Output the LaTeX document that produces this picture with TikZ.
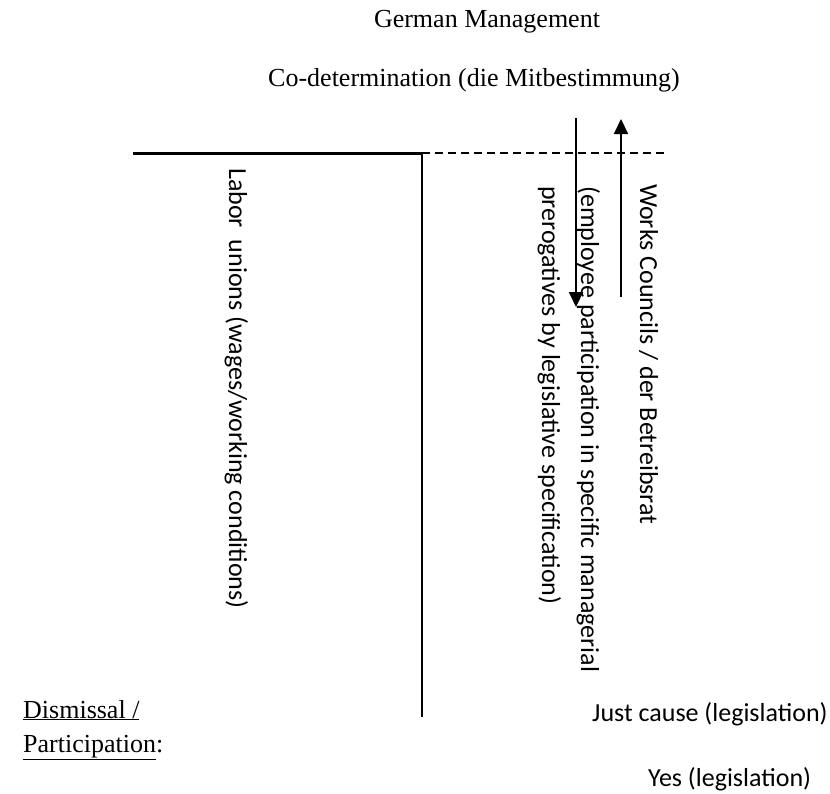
\documentclass[tikz,border=0pt]{standalone}
\usepackage{fontspec}
\setmainfont{Liberation Serif}
\newfontfamily\calibrifont{Carlito}
\usetikzlibrary{arrows.meta}

\begin{document}
\begin{tikzpicture}[x=1pt,y=-1pt]
      \tikzset{serif/.style={font=\fontsize{26}{34}\selectfont, inner sep=0pt},
               sans/.style={font=\calibrifont\fontsize{26}{39}\selectfont, inner sep=0pt},
               upright/.style={sans, rotate=-90, anchor=base west, align=left},
               flow/.style={line width=2pt, -{Triangle[width=14pt,length=15pt]}}}
      \useasboundingbox (0,0) rectangle (830,793);
%% Titles
      	\node[serif, anchor=base] (title) at (487,27) {German Management};
      	\node[serif, anchor=base east] (codet) at (680,86) {Co-determination (die Mitbestimmung)};
%% Frame
      	\coordinate (lend) at (133,153);
      	\coordinate (corner) at (422,153);
      	\coordinate (vend) at (422,717);
      	\coordinate (dend) at (667,153);
      	\draw[line width=3pt] (lend) -- (corner);
      	\draw[line width=2.5pt] (corner) -- (vend);
      	\draw[line width=1.3pt, dash pattern=on 8pt off 5pt] (corner) -- (dend);
%Arrows
      	\coordinate (dtop) at (576,118);
      	\coordinate (dtip) at (576,307);
      	\coordinate (utail) at (621,297);
      	\coordinate (utip) at (621,119);
		\draw[flow] (dtop) -- (dtip);
		\draw[flow] (utail) -- (utip);
%Labels
      	\node[upright] (unions) at (229,168) {Labor\ \ unions (wages/working conditions)};
      	\node[upright] (particip) at (542,186) {(employee participation in specific managerial\\prerogatives by legislative specification)};
      	\node[upright] (councils) at (640,184) {Works Councils / der Betreibsrat};
      	\node[serif, anchor=base west] (dismiss) at (23,718) {\underline{Dismissal /}};
      	\node[serif, anchor=base west] (partic) at (23,752) {\underline{Participation}:};
      	\node[sans, anchor=base west] (cause) at (592,721) {Just cause (legislation)};
      	\node[sans, anchor=base west] (yes) at (648,786) {Yes (legislation)};
	\end{tikzpicture}
\end{document}
